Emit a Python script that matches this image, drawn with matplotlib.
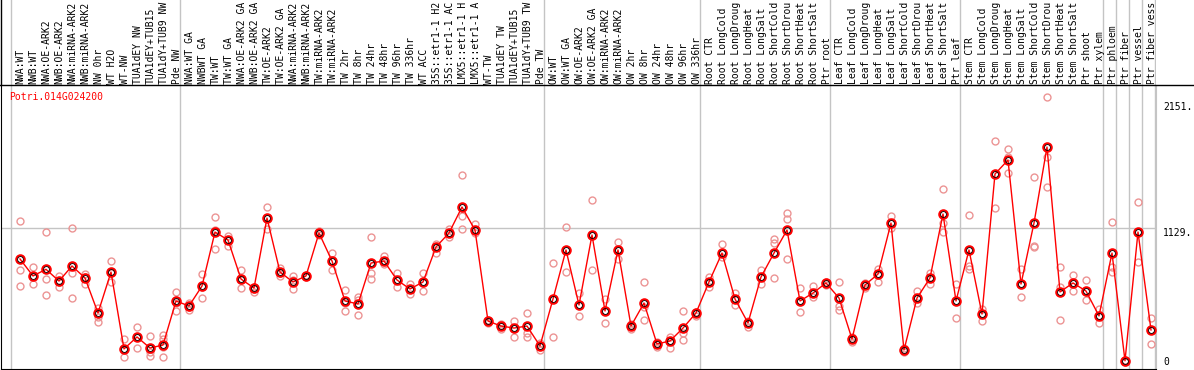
import matplotlib
matplotlib.use('Agg')
import matplotlib.pyplot as plt
from matplotlib.lines import Line2D

W, H = 1194, 370

gene = 'Potri.014G024200'

# column labels as far as they show in the header strip
labels = [
    'NWA:WT', 'NWB:WT', 'NWA:OE-ARK2', 'NWB:OE-ARK2', 'NWA:miRNA-ARK2', 'NWB:miRNA-ARK2',
    'NW 0hr', 'WT H2O', 'WT-NW', 'TUA1dEY NW', 'TUA1dEY+TUB15', 'TUA1dY+TUB9 NW', 'Pde NW',
    'NWA:WT GA', 'NWBWT GA', 'TW:WT', 'TW:WT GA', 'NWA:OE-ARK2 GA', 'NWB:OE-ARK2 GA',
    'TW:OE-ARK2', 'TW:OE-ARK2 GA', 'NWA:miRNA-ARK2', 'NWB:miRNA-ARK2', 'TW:miRNA-ARK2',
    'TW:miRNA-ARK2', 'TW 2hr', 'TW 8hr', 'TW 24hr', 'TW 48hr', 'TW 96hr', 'TW 336hr', 'WT ACC',
    '35S::etr1-1 H2', '35S::etr1-1 AC', 'LMX5::etr1-1 H', 'LMX5::etr1-1 A', 'WT-TW',
    'TUA1dEY TW', 'TUA1dEY+TUB15', 'TUA1dY+TUB9 TW', 'Pde TW',
    'OW:WT', 'OW:WT GA', 'OW:OE-ARK2', 'OW:OE-ARK2 GA', 'OW:miRNA-ARK2', 'OW:miRNA-ARK2',
    'OW 2hr', 'OW 8hr', 'OW 24hr', 'OW 48hr', 'OW 96hr', 'OW 336hr',
    'Root CTR', 'Root LongCold', 'Root LongDroug', 'Root LongHeat', 'Root LongSalt',
    'Root ShortCold', 'Root ShortDrou', 'Root ShortHeat', 'Root ShortSalt', 'Ptr root',
    'Leaf CTR', 'Leaf LongCold', 'Leaf LongDroug', 'Leaf LongHeat', 'Leaf LongSalt',
    'Leaf ShortCold', 'Leaf ShortDrou', 'Leaf ShortHeat', 'Leaf ShortSalt', 'Ptr leaf',
    'Stem CTR', 'Stem LongCold', 'Stem LongDroug', 'Stem LongHeat', 'Stem LongSalt',
    'Stem ShortCold', 'Stem ShortDrou', 'Stem ShortHeat', 'Stem ShortSalt', 'Ptr shoot',
    'Ptr xylem', 'Ptr phloem', 'Ptr fiber', 'Ptr vessel', 'Ptr fiber vess',
]

means = [
    868, 725, 781, 682, 809, 708, 413, 758, 110, 211, 118, 143, 514,
    472, 640, 1095, 1028, 699, 623, 1213, 758, 674, 725, 1087, 851, 514, 489, 834,
    851, 691, 615, 674, 969, 1087, 1306, 1112, 345, 303, 286, 303, 135,
    531, 944, 480, 1070, 430, 944, 303, 497, 152, 177, 286, 413,
    674, 918, 531, 329, 716, 918, 1112, 514, 581, 666,
    539, 194, 649, 741, 1171, 101, 539, 708, 1247, 514,
    944, 404, 1584, 1702, 657, 1171, 1811, 590, 666, 598, 388,
    918, 10, 1095, 270,
]

reps = [
    [1188, 775, 640], [800, 716, 657], [1095, 699, 564], [725, 632, 674], [1129, 750, 539],
    [741, 657, 716], [455, 379, 337], [851, 674, 750], [194, 42, 110], [295, 118, 211],
    [219, 84, 51], [227, 194, 42, 126], [590, 430, 497],
    [497, 438, 463], [741, 539, 632], [1222, 952, 1112], [1062, 977, 1028], [775, 623, 691],
    [632, 590, 615], [1306, 1121, 1213], [792, 725, 750], [725, 615, 691], [733, 716, 725],
    [1104, 1070, 1087], [918, 775, 851], [607, 430, 497], [548, 396, 522], [1053, 750, 699],
    [893, 826, 851], [750, 632, 691], [657, 573, 615], [750, 598, 674], [994, 918, 969],
    [1121, 1053, 1087], [1575, 1230, 1121], [1163, 1087, 1112], [329, 354, 345],
    [320, 278, 303], [345, 211, 286], [413, 211, 244], [101, 160, 135],
    [834, 211, 531], [1137, 758, 944], [581, 388, 480], [1365, 775, 1070], [531, 329, 430],
    [1011, 868, 944], [278, 320, 303], [674, 354, 463], [126, 168, 152], [211, 118, 177],
    [430, 185, 244], [421, 388, 413],
    [716, 632, 674], [994, 885, 918], [581, 480, 531], [295, 345, 329], [775, 657, 716],
    [1036, 1003, 708], [1255, 1205, 868], [623, 421, 514], [640, 548, 581], [674, 649, 666],
    [674, 438, 472], [211, 168, 194], [666, 623, 649], [784, 674, 741], [1230, 1129, 1171],
    [118, 84, 101], [598, 497, 539], [750, 657, 708], [1458, 1171, 1095], [657, 371, 514],
    [1238, 809, 784], [447, 345, 404], [1862, 1297, 1584], [1795, 1727, 1592], [784, 548, 657],
    [1559, 969, 980], [2233, 1727, 1474], [800, 354, 632], [733, 598, 666], [691, 522, 598],
    [447, 329, 388],
    [1180, 800, 758], [17, 0, 5], [1348, 843, 1095], [371, 152, 270],
]

group_edges = [0, 13, 41, 53, 63, 73, 84, 85, 86, 87, 88]
y_ticks = [2151, 1129, 0]

def fx(x):
    return x / W

def fy(y):
    return 1 - y / H

fig = plt.figure(figsize=(W / 100, H / 100), dpi=100)
font = {'family': 'DejaVu Sans Mono', 'size': 7.0}

ax = fig.add_axes([fx(1), fy(369), fx(1156) - fx(1), fy(85) - fy(369)])
top = fig.add_axes([fx(1), fy(85), fx(1156) - fx(1), fy(0) - fy(85)])

xmin, xmax = -10 / 13, 1145 / 13
ax.set_xlim(xmin, xmax)
ax.set_ylim(-59, 2334)
top.set_xlim(xmin, xmax)
top.set_ylim(0, 85)

gray = '#c4c4c4'
for e in group_edges:
    ax.axvline(e, color=gray, lw=1, zorder=1)
    top.axvline(e, color=gray, lw=1, zorder=1)
ax.axhline(y_ticks[1], color=gray, lw=1, zorder=1)

xs = [i + 9 / 13 for i in range(len(means))]
for x, r in zip(xs, reps):
    ax.plot([x] * len(r), r, 'o', ms=5, mfc='none', mec='#ec9494', mew=1.0, zorder=2)
ax.plot(xs, means, '-', color='red', lw=1, zorder=3)
ax.plot(xs, means, 'o', ms=6, mfc='none', mec='red', mew=1.6, zorder=4)
ax.plot(xs, means, 'o', ms=4.2, mfc='none', mec='black', mew=0.6, zorder=5)

ax.set_xticks([])
ax.set_yticks([])
for s in ['left', 'bottom']:
    ax.spines[s].set_color('black')
ax.spines['top'].set_visible(False)
ax.spines['right'].set_color(gray)

top.axis('off')
for i, lab in enumerate(labels):
    top.text(i + 0.75, 1.5, lab, rotation=90, ha='center', va='bottom', **font)

fig.text(fx(9), fy(97), gene, color='red', ha='left', va='center', **font)
fig.text(fx(1163), fy(107), '%d.' % y_ticks[0], ha='left', va='center', **font)
fig.text(fx(1163), fy(233), '%d.' % y_ticks[1], ha='left', va='center', **font)
fig.text(fx(1163), fy(362), '%d' % y_ticks[2], ha='left', va='center', **font)

fig.add_artist(Line2D([0, 1], [fy(85), fy(85)], transform=fig.transFigure, color='black', lw=1))
fig.add_artist(Line2D([fx(1), fx(1)], [fy(0), fy(85)], transform=fig.transFigure, color='black', lw=1))

fig.savefig('out.png', dpi=100)
